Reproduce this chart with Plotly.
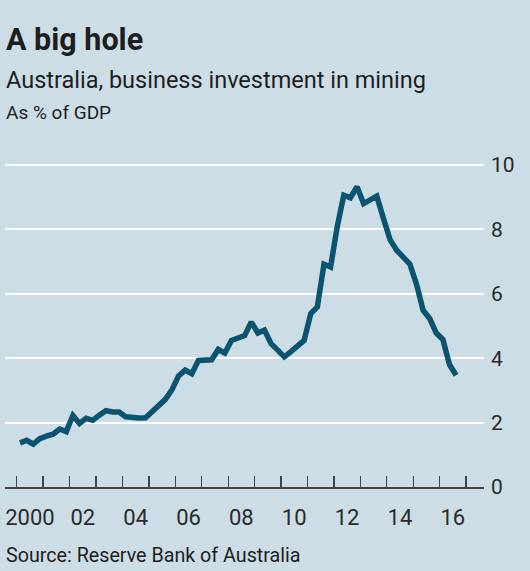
import plotly.graph_objects as go

# ---- data (quarterly, % of GDP) ----
start_year = 2000
values = [
    1.37, 1.45, 1.33, 1.50,   # 2000
    1.58, 1.64, 1.80, 1.72,   # 2001
    2.22, 1.97, 2.13, 2.07,   # 2002
    2.23, 2.37, 2.33, 2.33,   # 2003
    2.18, 2.14, 2.14, 2.15,   # 2004
    2.35, 2.52, 2.72, 3.02,   # 2005
    3.45, 3.63, 3.52, 3.93,   # 2006
    3.95, 3.95, 4.27, 4.16,   # 2007
    4.55, 4.62, 4.70, 5.12,   # 2008
    4.78, 4.87, 4.45, 4.25,   # 2009
    4.04, 4.20, 4.38, 4.55,   # 2010
    5.38, 5.59, 6.92, 6.83,   # 2011
    8.07, 9.06, 8.98, 9.32,   # 2012
    8.80, 8.93, 9.03, 8.34,   # 2013
    7.68, 7.35, 7.14, 6.92,   # 2014
    6.30, 5.49, 5.23, 4.78,   # 2015
    4.58, 3.80, 3.47,         # 2016
]
quarters = [f"{start_year + i // 4}Q{i % 4 + 1}" for i in range(len(values))]
tick_years = list(range(2000, 2018))
label_years = list(range(2000, 2017, 2))
label_text = ["2000", "02", "04", "06", "08", "10", "12", "14", "16"]
y_ticks = [0, 2, 4, 6, 8, 10]

title = "A big hole"
subtitle = "Australia, business investment in mining"
unit = "As % of GDP"
source = "Source: Reserve Bank of Australia"

# ---- styling ----
BG = "#cddde6"
LINE = "#0b5470"
TXT = "#1e1e1e"
FONT = "Roboto"

x = [int(q[:4]) + (int(q[5]) - 0.5) / 4 for q in quarters]

fig = go.Figure()
fig.add_trace(go.Scatter(
    x=x, y=values, mode="lines",
    line=dict(color=LINE, width=5.5, shape="linear"),
    hoverinfo="skip", showlegend=False,
))

fig.update_layout(
    width=530, height=571,
    paper_bgcolor=BG, plot_bgcolor=BG,
    margin=dict(l=5, r=46, t=152, b=84),
    font=dict(family=FONT, color=TXT),
    xaxis=dict(
        range=[1999.557, 2017.68],
        tickvals=[y + 0.5 for y in label_years],
        ticktext=label_text,
        ticks="", showgrid=False, zeroline=False,
        showline=True, linecolor="#444444", linewidth=1.5,
        tickfont=dict(size=22, color="#2a2a2a", family=FONT),
        ticklabelstandoff=10,
        minor=dict(tickvals=tick_years, ticks="inside", ticklen=11,
                   tickcolor="#444444", tickwidth=1.3, showgrid=False),
    ),
    yaxis=dict(
        range=[0, 10.4], side="right",
        tickvals=y_ticks, ticks="",
        showgrid=True, gridcolor="#ffffff", gridwidth=2,
        zeroline=False, showline=False,
        tickfont=dict(size=21, color="#2a2a2a", family=FONT),
        ticklabelstandoff=6,
    ),
)

def ann(text, y, size, bold=False):
    fig.add_annotation(
        text=f"<b>{text}</b>" if bold else text,
        xref="paper", yref="paper", x=-0.0023, y=y,
        xanchor="left", yanchor="middle", showarrow=False,
        font=dict(size=size, family=FONT, color=TXT),
    )

ann(title, 1.3346, 30.5, bold=True)
ann(subtitle, 1.2151, 23.5)
ann(unit, 1.118, 19)
ann(source, -0.2056, 19.7)

fig.write_html("out.html",
               config={"displayModeBar": False, "staticPlot": True},
               post_script="document.body.style.margin='0px';document.body.style.padding='0px';")
